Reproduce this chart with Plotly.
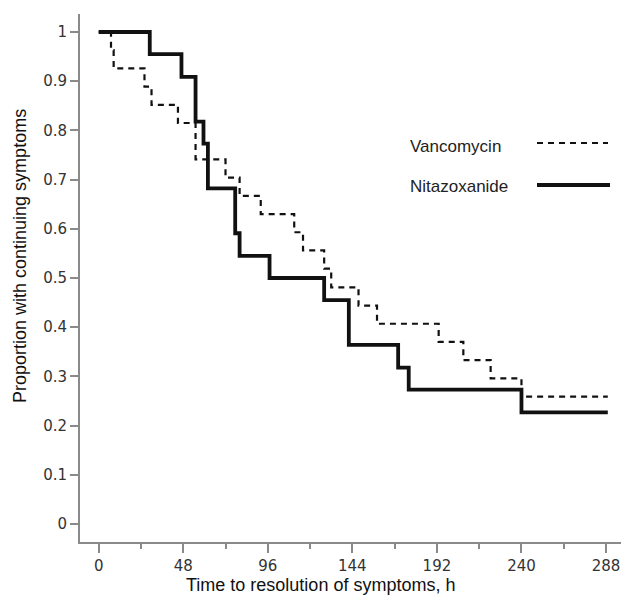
import plotly.graph_objects as go

# Kaplan-Meier step data (time in hours, proportion with continuing symptoms)
vanco_t = [0, 7, 8.5, 26, 30, 45, 55, 72, 80, 92, 111, 116, 128, 132,
           147.5, 158, 193, 207, 222.5, 240, 289]
vanco_s = [1.0, 0.963, 0.926, 0.889, 0.852, 0.815, 0.741, 0.704, 0.667, 0.630, 0.593,
           0.556, 0.519, 0.481, 0.444, 0.407, 0.370, 0.333, 0.296, 0.259, 0.259]

nitaz_t = [0, 29, 47, 55, 59.5, 62, 77.5, 80, 97, 128, 142, 170, 176, 240, 289]
nitaz_s = [1.0, 0.955, 0.909, 0.818, 0.773, 0.682, 0.591, 0.545, 0.5, 0.455, 0.364,
           0.318, 0.273, 0.227, 0.227]

x_ticks = [0, 48, 96, 144, 192, 240, 288]
y_ticks = [0, 0.1, 0.2, 0.3, 0.4, 0.5, 0.6, 0.7, 0.8, 0.9, 1]
y_ticklabels = ["0", "0.1", "0.2", "0.3", "0.4", "0.5", "0.6", "0.7", "0.8", "0.9", "1"]

series_names = ["Vancomycin", "Nitazoxanide"]

fig = go.Figure()
fig.add_trace(go.Scatter(x=vanco_t, y=vanco_s, mode="lines", line_shape="hv",
                         line=dict(color="#111111", width=2.2, dash="6px,5px"),
                         name=series_names[0], showlegend=False))
fig.add_trace(go.Scatter(x=nitaz_t, y=nitaz_s, mode="lines", line_shape="hv",
                         line=dict(color="#111111", width=3.8),
                         name=series_names[1], showlegend=False))

axis_col = "#8a8a8a"
tick_font = dict(family="DejaVu Sans", size=15, color="#333333")

fig.update_xaxes(range=[-10.6, 296.5], tickvals=x_ticks, ticktext=[str(v) for v in x_ticks],
                 showline=True, linecolor=axis_col, linewidth=2, mirror=False,
                 ticks="outside", ticklen=9, tickwidth=2, tickcolor=axis_col,
                 minor=dict(dtick=24, tick0=0, ticks="outside", ticklen=5, tickwidth=2, tickcolor=axis_col),
                 showgrid=False, zeroline=False, tickfont=tick_font,
                 ticklabeloverflow="allow")
fig.update_yaxes(range=[-0.0366, 1.0366], tickvals=y_ticks, ticktext=y_ticklabels,
                 showline=True, linecolor=axis_col, linewidth=2,
                 ticks="outside", ticklen=8, tickwidth=2, tickcolor=axis_col,
                 showgrid=False, zeroline=False, tickfont=tick_font)

title_font = dict(family="Liberation Sans", size=18, color="#111111")
legend_font = dict(family="Liberation Sans", size=17, color="#222222")

# plot domain: 541 x 528 px, left edge at x=80, bottom at y=542
annotations = [
    dict(text="Time to resolution of symptoms, h", xref="paper", yref="paper",
         x=(320 - 80) / 541, y=-(585 - 542) / 528, xanchor="center", yanchor="middle",
         showarrow=False, font=title_font),
    dict(text="Proportion with continuing symptoms", xref="paper", yref="paper",
         x=-(80 - 20) / 541, y=(542 - 256) / 528, xanchor="center", yanchor="middle",
         textangle=-90, showarrow=False, font=title_font),
    dict(text=series_names[0], xref="paper", yref="paper",
         x=(408 - 80) / 541, y=(542 - 146) / 528, xanchor="left", yanchor="middle",
         showarrow=False, font=legend_font),
    dict(text=series_names[1], xref="paper", yref="paper",
         x=(408 - 80) / 541, y=(542 - 186) / 528, xanchor="left", yanchor="middle",
         showarrow=False, font=legend_font),
]

shapes = [
    dict(type="line", xref="paper", yref="paper",
         x0=(537 - 80) / 541, x1=(608 - 80) / 541,
         y0=(542 - 143) / 528, y1=(542 - 143) / 528,
         line=dict(color="#111111", width=2.2, dash="6px,5px")),
    dict(type="line", xref="paper", yref="paper",
         x0=(537 - 80) / 541, x1=(610 - 80) / 541,
         y0=(542 - 185) / 528, y1=(542 - 185) / 528,
         line=dict(color="#111111", width=3.8)),
]

fig.update_layout(width=621, height=604, margin=dict(l=80, r=0, t=14, b=62),
                  plot_bgcolor="white", paper_bgcolor="white",
                  annotations=annotations, shapes=shapes, showlegend=False)

fig.write_html("out.html", config={"displayModeBar": False},
               post_script="document.body.style.margin='0';document.body.style.overflow='hidden';")
